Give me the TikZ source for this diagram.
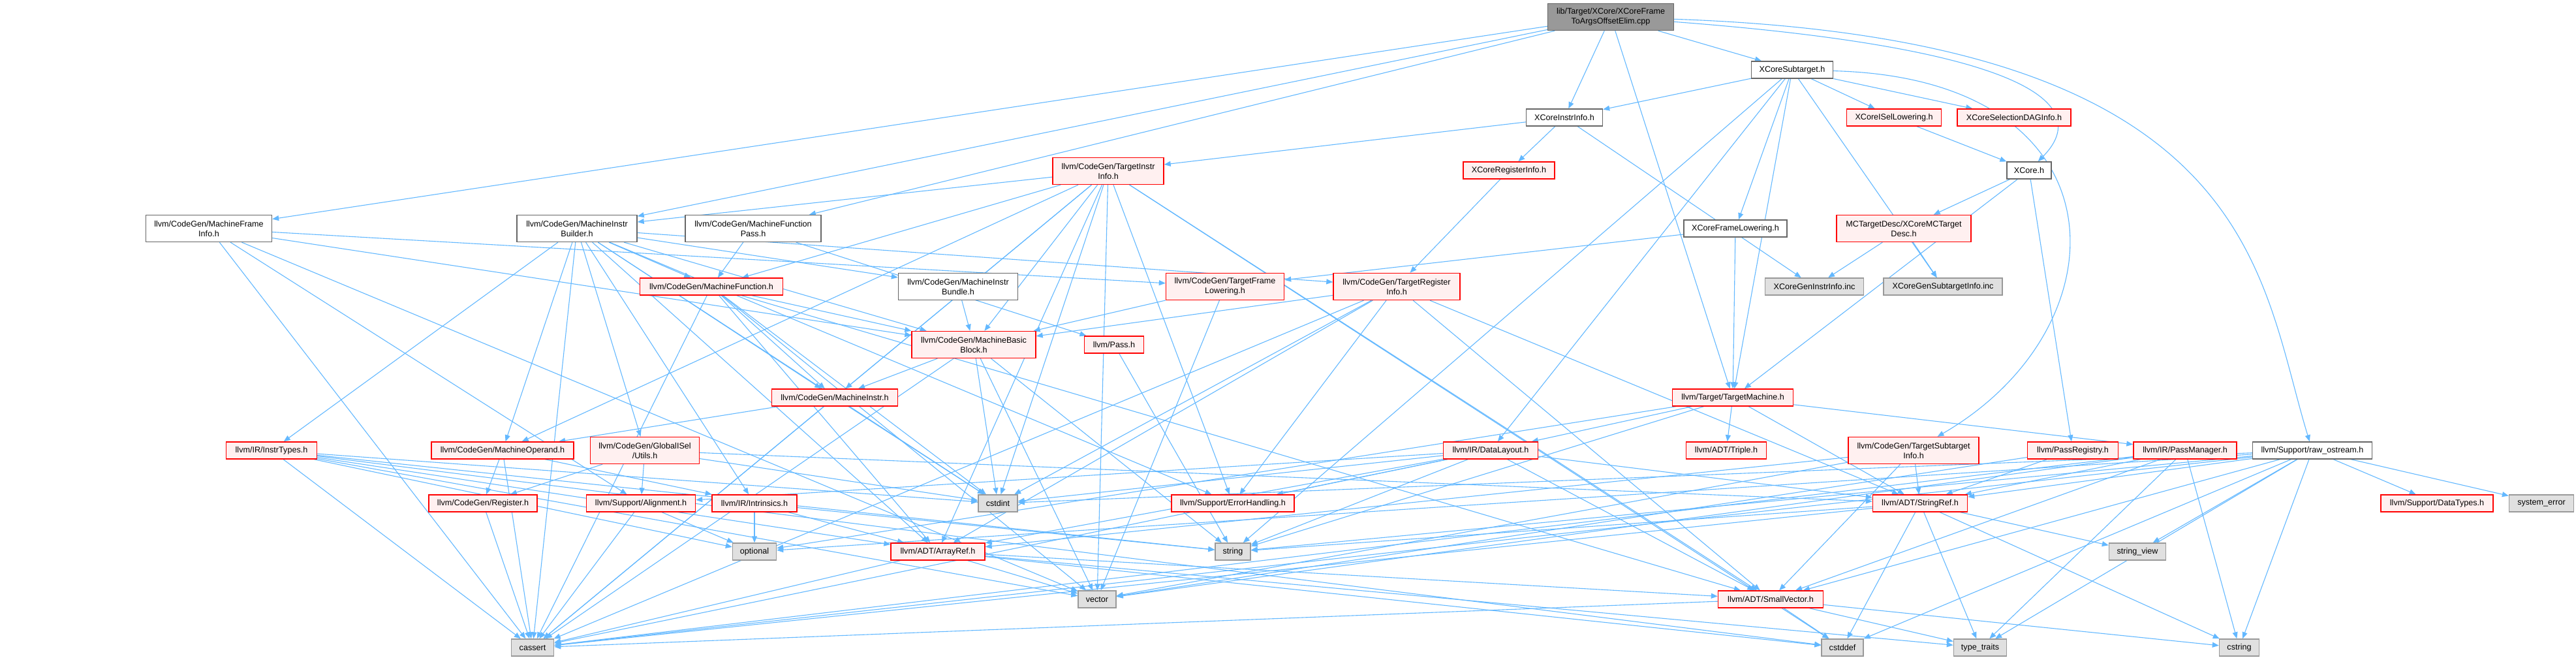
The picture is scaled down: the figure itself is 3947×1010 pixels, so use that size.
\documentclass[tikz,border=0pt]{standalone}
\usepackage{fontspec}
\setmainfont{Liberation Sans}
\usetikzlibrary{arrows.meta,backgrounds}
\definecolor{edgec}{HTML}{63B8FF}
\definecolor{wborder}{HTML}{666666}
\definecolor{redfill}{HTML}{FFF0F0}
\definecolor{redline}{HTML}{FF0000}
\definecolor{sysfill}{HTML}{E0E0E0}
\definecolor{sysline}{HTML}{999999}
\definecolor{rootfill}{HTML}{999999}
\definecolor{rootline}{HTML}{666666}
\begin{document}
\begin{tikzpicture}[x=1pt,y=-1pt,
  font=\fontsize{12.6}{15}\selectfont,
  box/.style={line width=1.4pt, inner sep=0pt, align=center, anchor=center},
  wbox/.style={box, draw=wborder, fill=white},
  rbox/.style={box, draw=redline, fill=redfill},
  gbox/.style={box, draw=sysline, fill=sysfill},
  rootbox/.style={box, draw=rootline, fill=rootfill},
  edge/.style={draw=edgec, line width=1.1pt, -{Triangle[length=10pt,width=8pt]}}]
\useasboundingbox (0,0) rectangle (3947,1010);
% row 0
\node[rootbox, minimum width=193pt, minimum height=41pt] (root) at (2468,26) {lib/Target/XCore/XCoreFrame\\ToArgsOffsetElim.cpp};
% row 1
\node[wbox, minimum width=125pt, minimum height=26pt] (XSub) at (2746,107) {XCoreSubtarget.h};
% row 2
\node[wbox, minimum width=117pt, minimum height=26pt] (XII) at (2397,180) {XCoreInstrInfo.h};
\node[rbox, minimum width=145pt, minimum height=26pt] (XISel) at (2902,180) {XCoreISelLowering.h};
\node[rbox, minimum width=174pt, minimum height=26pt] (XSDAG) at (3086,180) {XCoreSelectionDAGInfo.h};
% row 3
\node[rbox, minimum width=170pt, minimum height=41pt] (TII) at (1698,262) {llvm/CodeGen/TargetInstr\\Info.h};
\node[rbox, minimum width=140pt, minimum height=26pt] (XRI) at (2312,261) {XCoreRegisterInfo.h};
\node[wbox, minimum width=68pt, minimum height=26pt] (XCore) at (3109,261) {XCore.h};
% row 4
\node[wbox, minimum width=193pt, minimum height=41pt] (MFI) at (320,350) {llvm/CodeGen/MachineFrame\\Info.h};
\node[wbox, minimum width=184pt, minimum height=41pt] (MIB) at (884,350) {llvm/CodeGen/MachineInstr\\Builder.h};
\node[wbox, minimum width=208pt, minimum height=41pt] (MFP) at (1154,350) {llvm/CodeGen/MachineFunction\\Pass.h};
\node[wbox, minimum width=158pt, minimum height=26pt] (XFL) at (2659,350) {XCoreFrameLowering.h};
\node[rbox, minimum width=206pt, minimum height=41pt] (MCTD) at (2917,350) {MCTargetDesc/XCoreMCTarget\\Desc.h};
% row 5
\node[rbox, minimum width=219pt, minimum height=26pt] (MF) at (1090,439) {llvm/CodeGen/MachineFunction.h};
\node[wbox, minimum width=183pt, minimum height=41pt] (MIBundle) at (1468,439) {llvm/CodeGen/MachineInstr\\Bundle.h};
\node[rbox, minimum width=181pt, minimum height=41pt] (TFL) at (1877,439) {llvm/CodeGen/TargetFrame\\Lowering.h};
\node[rbox, minimum width=194pt, minimum height=41pt] (TRI) at (2140,439) {llvm/CodeGen/TargetRegister\\Info.h};
\node[gbox, minimum width=151pt, minimum height=26pt] (XGII) at (2780,439) {XCoreGenInstrInfo.inc};
\node[gbox, minimum width=182pt, minimum height=26pt] (XGSI) at (2977,439) {XCoreGenSubtargetInfo.inc};
% row 6
\node[rbox, minimum width=190pt, minimum height=41pt] (MBB) at (1492,528) {llvm/CodeGen/MachineBasic\\Block.h};
\node[rbox, minimum width=91pt, minimum height=26pt] (Pass) at (1707,528) {llvm/Pass.h};
% row 7
\node[rbox, minimum width=193pt, minimum height=26pt] (MI) at (1279,609) {llvm/CodeGen/MachineInstr.h};
\node[rbox, minimum width=185pt, minimum height=26pt] (TM) at (2655,609) {llvm/Target/TargetMachine.h};
% row 8
\node[rbox, minimum width=139pt, minimum height=26pt] (InstrTypes) at (416,690) {llvm/IR/InstrTypes.h};
\node[rbox, minimum width=218pt, minimum height=26pt] (MO) at (770,690) {llvm/CodeGen/MachineOperand.h};
\node[rbox, minimum width=167pt, minimum height=41pt] (GIU) at (988,690) {llvm/CodeGen/GlobalISel\\/Utils.h};
\node[rbox, minimum width=145pt, minimum height=26pt] (DL) at (2284,690) {llvm/IR/DataLayout.h};
\node[rbox, minimum width=123pt, minimum height=26pt] (Triple) at (2645,690) {llvm/ADT/Triple.h};
\node[rbox, minimum width=200pt, minimum height=41pt] (TSI) at (2932,690) {llvm/CodeGen/TargetSubtarget\\Info.h};
\node[rbox, minimum width=139pt, minimum height=26pt] (PassReg) at (3176,690) {llvm/PassRegistry.h};
\node[rbox, minimum width=158pt, minimum height=26pt] (PassMgr) at (3348,690) {llvm/IR/PassManager.h};
\node[wbox, minimum width=183pt, minimum height=26pt] (raw) at (3543,690) {llvm/Support/raw\_ostream.h};
% row 9
\node[rbox, minimum width=166pt, minimum height=26pt] (Reg) at (740,771) {llvm/CodeGen/Register.h};
\node[rbox, minimum width=167pt, minimum height=26pt] (Align) at (982,771) {llvm/Support/Alignment.h};
\node[rbox, minimum width=130pt, minimum height=26pt] (Intr) at (1156,771) {llvm/IR/Intrinsics.h};
\node[gbox, minimum width=60pt, minimum height=26pt] (cstdint) at (1529,771) {cstdint};
\node[rbox, minimum width=188pt, minimum height=26pt] (ErrH) at (1889,771) {llvm/Support/ErrorHandling.h};
\node[rbox, minimum width=145pt, minimum height=26pt] (StrRef) at (2942,771) {llvm/ADT/StringRef.h};
\node[rbox, minimum width=172pt, minimum height=26pt] (DataTypes) at (3734,771) {llvm/Support/DataTypes.h};
\node[gbox, minimum width=99pt, minimum height=26pt] (syserr) at (3894,771) {system\_error};
% row 10
\node[gbox, minimum width=67pt, minimum height=26pt] (optional) at (1156,845) {optional};
\node[rbox, minimum width=144pt, minimum height=26pt] (ArrayRef) at (1437,845) {llvm/ADT/ArrayRef.h};
\node[gbox, minimum width=54pt, minimum height=26pt] (string) at (1889,845) {string};
\node[gbox, minimum width=87pt, minimum height=26pt] (strview) at (3275,845) {string\_view};
% row 11
\node[gbox, minimum width=58pt, minimum height=26pt] (vector) at (1681,918) {vector};
\node[rbox, minimum width=161pt, minimum height=26pt] (SmallVec) at (2713,918) {llvm/ADT/SmallVector.h};
% row 12
\node[gbox, minimum width=65pt, minimum height=26pt] (cassert) at (816,992) {cassert};
\node[gbox, minimum width=64pt, minimum height=26pt] (cstddef) at (2823,992) {cstddef};
\node[gbox, minimum width=81pt, minimum height=26pt] (ttraits) at (3034,992) {type\_traits};
\node[gbox, minimum width=61pt, minimum height=26pt] (cstring) at (3431,992) {cstring};

\begin{scope}[on background layer]
\foreach \a/\b in {root/MFI, root/MIB, root/MFP, root/XII, root/XSub, root/TM,
 XSub/XII, XSub/XISel, XSub/XSDAG, XSub/XFL, XSub/DL, XSub/TM, XSub/string, XSub/XGSI,
 XII/XRI, XII/TII, XII/XGII, XISel/XCore, XCore/MCTD, XCore/TM, XCore/PassReg, XRI/TRI,
 TII/MIB, TII/MF, TII/MBB, TII/MI, TII/MO, TII/ArrayRef, TII/SmallVec, TII/ErrH, TII/cassert, TII/cstddef, TII/cstdint, TII/vector,
 MCTD/XGII, MCTD/XGSI,
 MFI/TFL, MFI/MBB, MFI/Align, MFI/cassert, MFI/vector,
 MIB/ArrayRef, MIB/GIU, MIB/MBB, MIB/MF, MIB/MI, MIB/MIBundle, MIB/MO, MIB/TRI, MIB/InstrTypes, MIB/Intr, MIB/ErrH, MIB/cassert, MIB/cstdint,
 MFP/MF, MFP/Pass, XFL/TFL, XFL/TM,
 MF/MBB, MF/MI, MF/ArrayRef, MF/SmallVec, MF/cassert, MF/cstdint, MF/vector,
 MIBundle/MBB, TFL/MBB, TFL/vector,
 TRI/MBB, TRI/ArrayRef, TRI/SmallVec, TRI/StrRef, TRI/ErrH, TRI/cassert, TRI/cstdint,
 MBB/MI, MBB/cassert, MBB/cstdint, MBB/string, MBB/vector, Pass/string,
 TM/StrRef, TM/Triple, TM/DL, TM/PassMgr, TM/optional, TM/string,
 MI/MO, MI/cassert, MI/cstdint,
 InstrTypes/ArrayRef, InstrTypes/cassert, InstrTypes/cstddef, InstrTypes/cstdint, InstrTypes/optional, InstrTypes/string, InstrTypes/vector,
 MO/Reg, MO/Intr, MO/cassert, GIU/Reg, GIU/Align, GIU/StrRef, GIU/cstdint,
 DL/ArrayRef, DL/SmallVec, DL/StrRef, DL/Align, DL/ErrH, DL/cassert, DL/cstdint, DL/string,
 TSI/ArrayRef, TSI/SmallVec, TSI/StrRef, TSI/vector, PassReg/StrRef, PassReg/vector,
 PassMgr/SmallVec, PassMgr/StrRef, PassMgr/cassert, PassMgr/cstring, PassMgr/ttraits, PassMgr/vector,
 raw/SmallVec, raw/StrRef, raw/DataTypes, raw/cassert, raw/cstddef, raw/cstdint, raw/cstring, raw/optional, raw/string, raw/strview, raw/syserr, raw/ttraits,
 Reg/cassert, Align/cassert, Align/optional, Intr/ArrayRef, Intr/optional, Intr/string,
 ArrayRef/SmallVec, ArrayRef/cassert, ArrayRef/cstddef, ArrayRef/ttraits, ArrayRef/vector,
 StrRef/cassert, StrRef/cstddef, StrRef/cstring, StrRef/string, StrRef/strview, StrRef/ttraits,
 SmallVec/cassert, SmallVec/cstddef, SmallVec/cstring, SmallVec/ttraits}
 { \draw[edge] (\a) -- (\b); }
\draw[edge] (root) .. controls (3460,60) and (3460,420) .. (raw);
\draw[edge] (root) .. controls (3180,80) and (3190,180) .. (XCore);
\draw[edge] (XSub) .. controls (3260,120) and (3260,500) .. (TSI);
\end{scope}
\end{tikzpicture}
\end{document}
